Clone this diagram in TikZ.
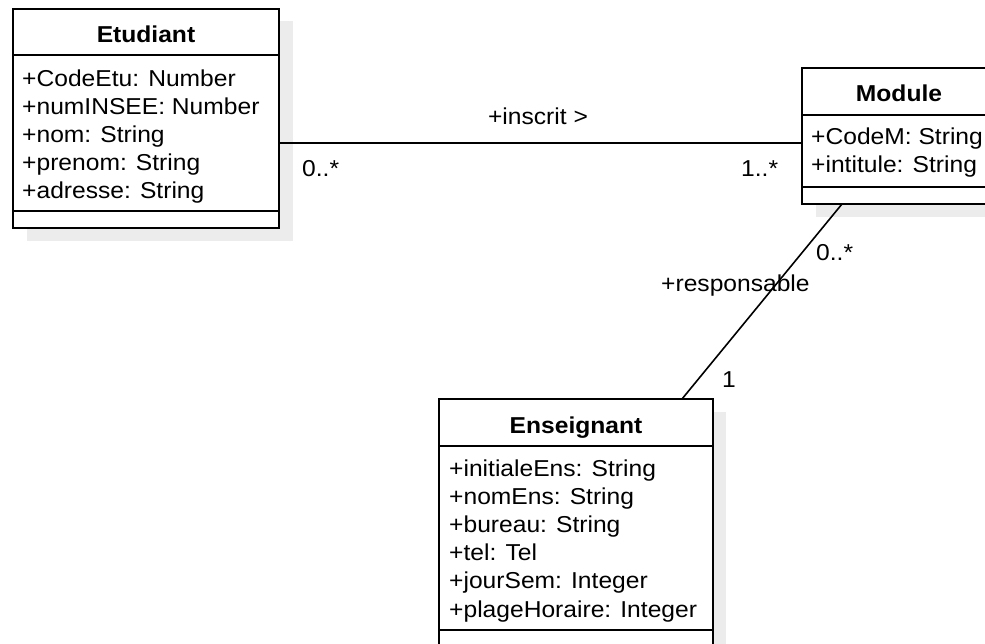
\documentclass[tikz,border=0pt]{standalone}
\usepackage{fontspec}
\setmainfont[FakeStretch=1.07]{Liberation Sans}
\usetikzlibrary{calc}
\definecolor{shade}{RGB}{236,236,236}
\tikzset{
  umlbox/.style={draw, line width=1.6pt, fill=white, inner sep=0pt, outer sep=0pt, anchor=north west},
  shadowbox/.style={fill=shade, draw=none, inner sep=0pt, outer sep=0pt, anchor=north west},
  classtitle/.style={font=\fontsize{23}{27}\selectfont\bfseries, anchor=base, inner sep=0pt},
  attr/.style={font=\fontsize{23}{27}\selectfont, anchor=base west, inner sep=0pt},
  label/.style={font=\fontsize{23}{27}\selectfont, inner sep=0pt},
  sepline/.style={line width=1.6pt},
  assoc/.style={line width=1.6pt},
}
\begin{document}
\begin{tikzpicture}[x=1pt,y=-1pt]
\useasboundingbox (0,0) rectangle (985,644);
\clip (0,0) rectangle (985,644);

% drop shadows
\node[shadowbox, minimum width=266pt, minimum height=220pt] (etushadow) at (27,21) {};
\node[shadowbox, minimum width=194pt, minimum height=136pt] (modshadow) at (816,81) {};
\node[shadowbox, minimum width=274pt, minimum height=280pt] (ensshadow) at (452,412) {};

% Etudiant
\node[umlbox, minimum width=266.3pt, minimum height=219pt] (etu) at (12.7,9) {};
\draw[sepline] ($(etu.north west)+(0,46)$) -- ($(etu.north east)+(0,46)$);
\draw[sepline] ($(etu.north west)+(0,202)$) -- ($(etu.north east)+(0,202)$);
\node[classtitle] (etutitle) at (146,43) {Etudiant};
\node[attr] (etu1) at (22,87) {+CodeEtu: Number};
\node[attr] (etu2) at (22,115) {+numINSEE: Number};
\node[attr] (etu3) at (22,143) {+nom: String};
\node[attr] (etu4) at (22,171) {+prenom: String};
\node[attr] (etu5) at (22,199) {+adresse: String};

% Module
\node[umlbox, minimum width=194pt, minimum height=136pt] (mod) at (802,68) {};
\draw[sepline] ($(mod.north west)+(0,47)$) -- ($(mod.north east)+(0,47)$);
\draw[sepline] ($(mod.north west)+(0,119)$) -- ($(mod.north east)+(0,119)$);
\node[classtitle] (modtitle) at (899,102) {Module};
\node[attr] (mod1) at (811,145) {+CodeM: String};
\node[attr] (mod2) at (811,173) {+intitule: String};

% Enseignant
\node[umlbox, minimum width=274pt, minimum height=280pt] (ens) at (439,399) {};
\draw[sepline] ($(ens.north west)+(0,47)$) -- ($(ens.north east)+(0,47)$);
\draw[sepline] ($(ens.north west)+(0,231)$) -- ($(ens.north east)+(0,231)$);
\node[classtitle] (enstitle) at (576,433) {Enseignant};
\node[attr] (ens1) at (449,476) {+initialeEns: String};
\node[attr] (ens2) at (449,504.2) {+nomEns: String};
\node[attr] (ens3) at (449,532.4) {+bureau: String};
\node[attr] (ens4) at (449,560.6) {+tel: Tel};
\node[attr] (ens5) at (449,588.8) {+jourSem: Integer};
\node[attr] (ens6) at (449,617) {+plageHoraire: Integer};

% association inscrit
\coordinate (inscY) at (0,143);
\draw[assoc] (etu.east |- inscY) -- (mod.west |- inscY);
\node[label, anchor=base] (inscrit) at (538,125) {+inscrit >};
\node[label, anchor=base west] (multetu) at (302,177) {0..*};
\node[label, anchor=base west] (multmod) at (741,177) {1..*};

% association responsable
\draw[assoc] ($(mod.south west)+(40,0)$) -- ($(ens.north west)+(243,0)$);
\node[label, anchor=base west] (resp) at (661,292) {+responsable};
\node[label, anchor=base west] (multresp) at (816,261) {0..*};
\node[label, anchor=base west] (multone) at (722,387) {1};
\end{tikzpicture}
\end{document}
